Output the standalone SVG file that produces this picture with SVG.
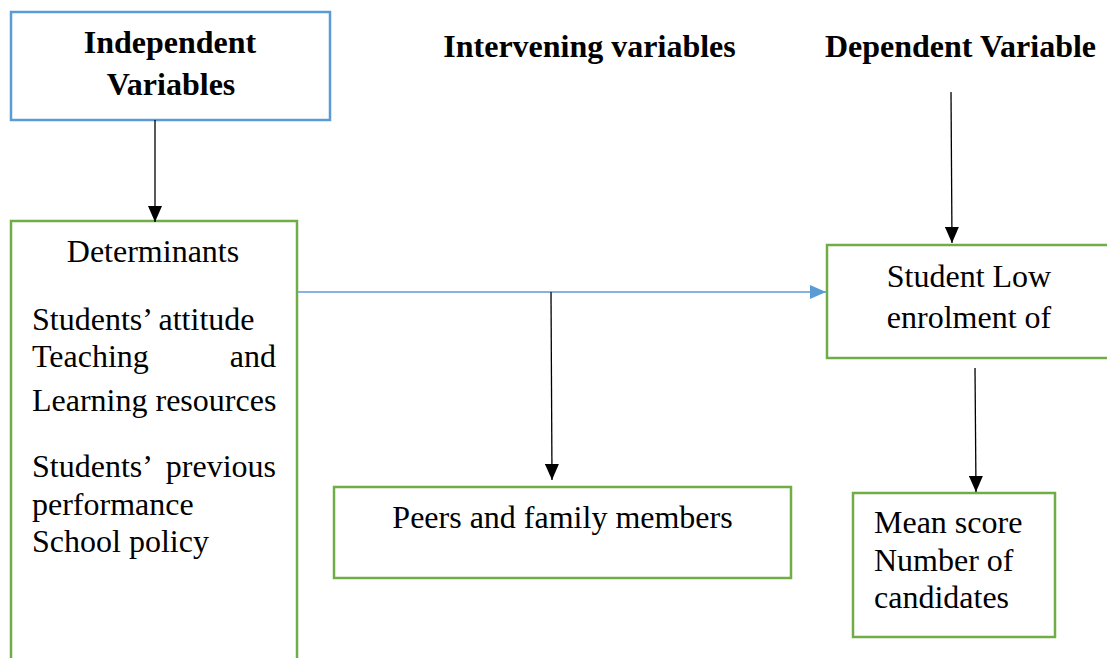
<svg xmlns="http://www.w3.org/2000/svg" width="1107" height="658" viewBox="0 0 1107 658">
<style>
.g{fill:#fff;stroke:#70AD47;stroke-width:2.5}
.bl{fill:#fff;stroke:#5B9BD5;stroke-width:2.5}
.k{stroke:#000;stroke-width:1.3;fill:none}
</style>
<defs>
<marker id="ak" markerWidth="16" markerHeight="14" viewBox="0 0 16 14" refX="16" refY="7" orient="auto" markerUnits="userSpaceOnUse"><path d="M0,0 L16,7 L0,14 Z" fill="#000"/></marker>
<marker id="ab" markerWidth="16" markerHeight="14" viewBox="0 0 16 14" refX="16" refY="7" orient="auto" markerUnits="userSpaceOnUse"><path d="M0,0 L16,7 L0,14 Z" fill="#5B9BD5"/></marker>
</defs>
<g font-family="Liberation Serif, Times New Roman, serif" font-size="32" fill="#000">
<g id="independent">
<rect class="bl" x="11" y="12" width="319" height="108"/>
<text font-weight="bold" x="170" y="53" text-anchor="middle">Independent</text>
<text font-weight="bold" x="171" y="95" text-anchor="middle">Variables</text>
</g>
<g id="intervening-label">
<text font-weight="bold" x="589.5" y="57" text-anchor="middle">Intervening variables</text>
</g>
<g id="dependent-label">
<text font-weight="bold" x="960.5" y="57" text-anchor="middle">Dependent Variable</text>
</g>
<g id="determinants">
<rect class="g" x="11" y="221" width="286" height="460"/>
<text x="153" y="262" text-anchor="middle">Determinants</text>
<text x="32" y="330">Students’ attitude</text>
<text x="32" y="367">Teaching</text>
<text x="276" y="367" text-anchor="end">and</text>
<text x="32" y="411">Learning resources</text>
<text x="32" y="477">Students’</text>
<text x="276" y="477" text-anchor="end">previous</text>
<text x="32" y="515">performance</text>
<text x="32" y="552">School policy</text>
</g>
<g id="peers">
<rect class="g" x="334" y="487" width="457" height="91"/>
<text x="562.5" y="528" text-anchor="middle">Peers and family members</text>
</g>
<g id="enrolment">
<rect class="g" x="827" y="245" width="300" height="113"/>
<text x="969" y="287" text-anchor="middle">Student Low</text>
<text x="969" y="328" text-anchor="middle">enrolment of</text>
</g>
<g id="outcomes">
<rect class="g" x="853" y="493" width="202" height="144"/>
<text x="874" y="533">Mean score</text>
<text x="874" y="571">Number of</text>
<text x="874" y="608">candidates</text>
</g>
</g>
<g id="connectors">
<line class="k" x1="155" y1="120" x2="155" y2="222" marker-end="url(#ak)"/>
<line x1="298" y1="292" x2="826" y2="292" stroke="#5B9BD5" stroke-width="1.5" marker-end="url(#ab)"/>
<line class="k" x1="551" y1="292" x2="552" y2="480" marker-end="url(#ak)"/>
<line class="k" x1="951" y1="92" x2="952" y2="243" marker-end="url(#ak)"/>
<line class="k" x1="975" y1="368" x2="976" y2="492" marker-end="url(#ak)"/>
</g>
</svg>
